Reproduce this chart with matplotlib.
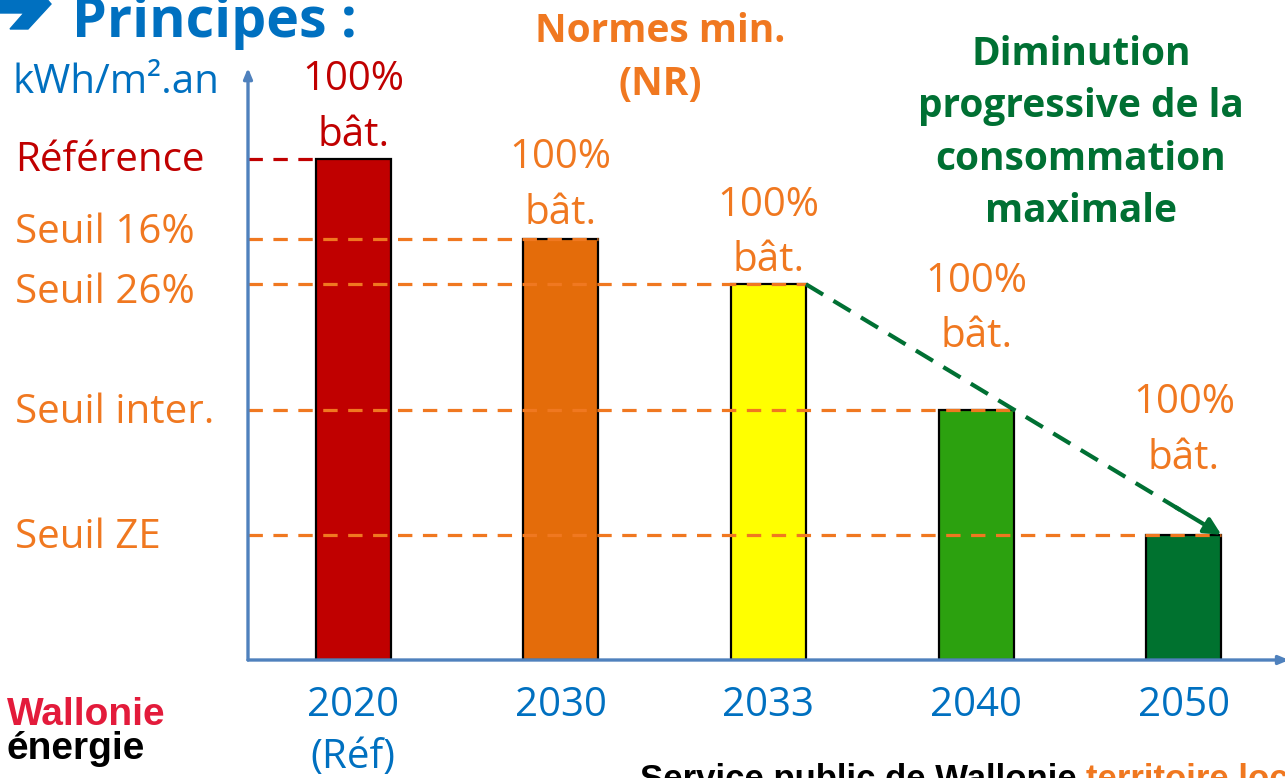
import matplotlib
matplotlib.use("Agg")
import matplotlib.pyplot as plt
import matplotlib.transforms as mtransforms
from matplotlib.patches import Polygon

# ---- data ----
years = ["2020\n(Réf)", "2030", "2033", "2040", "2050"]
values = [100, 84, 75, 50, 25]
bar_colors = ["#C00000", "#E46C0A", "#FFFF00", "#2CA10F", "#00722F"]
bar_labels = ["100%\nbât."] * 5
label_colors = ["#C00000", "#F07820", "#F07820", "#F07820", "#F07820"]
label_offsets = [3, 5, 3, 52, 56]  # px above bar top

level_names = ["Référence", "Seuil 16%", "Seuil 26%", "Seuil inter.", "Seuil ZE"]
level_values = [100, 84, 75, 50, 25]
level_colors = ["#C00000", "#F07820", "#F07820", "#F07820", "#F07820"]
level_label_shift = [-2, 6, -9, -3, -3]  # px upward

W, H = 1285, 778
DPI = 100
fig = plt.figure(figsize=(W / DPI, H / DPI), dpi=DPI)
plt.rcParams['font.family'] = ['Open Sans', 'DejaVu Sans']
FS = 29

def fx(px):
    return px / W

def fy(py):
    return 1 - py / H

x0_px, y0_px, ytop_px = 248, 660, 68
ax = fig.add_axes([fx(x0_px), fy(y0_px), 1 - fx(x0_px), (y0_px - ytop_px) / H])
ax.set_facecolor("none")

pos = list(range(len(years)))
bw = 0.361
ax.set_xlim(-0.506, 4.487)
ax.set_ylim(0, values[0] * 592 / 501)

ax.bar(pos, values, width=bw, color=bar_colors, edgecolor="black", linewidth=1.6, zorder=2)

for s in ax.spines.values():
    s.set_visible(False)
axis_blue = "#4F81BD"
ax.annotate("", xy=(0, 1.0), xytext=(0, 0), xycoords="axes fraction",
            arrowprops=dict(arrowstyle="-|>,head_length=0.6,head_width=0.25", color=axis_blue, lw=2.4,
                            shrinkA=0, shrinkB=0), zorder=5, annotation_clip=False)
ax.annotate("", xy=(1.004, 0), xytext=(0, 0), xycoords="axes fraction",
            arrowprops=dict(arrowstyle="-|>,head_length=0.6,head_width=0.25", color=axis_blue, lw=2.4,
                            shrinkA=0, shrinkB=0), zorder=5, annotation_clip=False)

ax.set_yticks([])
ax.set_xticks(pos)
ax.set_xticklabels(years, color="#0070C0", fontsize=FS, linespacing=1.4)
ax.tick_params(axis="x", length=0, pad=18)

# dashed level lines
xl = ax.get_xlim()[0]
dash = (0, (4.5, 3.3))
for i, (v, c) in enumerate(zip(level_values, level_colors)):
    xr = (pos[0] - bw / 2) if i == 0 else (pos[i] + bw / 2)
    ax.plot([xl, xr], [v, v], color=c, lw=2.3, linestyle=dash, zorder=3,
            solid_capstyle="butt", dash_capstyle="butt", clip_on=False)

# level labels
blend = mtransforms.blended_transform_factory(fig.transFigure, ax.transData)
for name, v, c, sh in zip(level_names, level_values, level_colors, level_label_shift):
    t = ax.text(fx(15), v, name, transform=blend, color=c, fontsize=FS,
                ha="left", va="center")
    t.set_transform(blend + mtransforms.ScaledTranslation(0, sh / DPI, fig.dpi_scale_trans))

# bar labels
for p, v, lab, c, off in zip(pos, values, bar_labels, label_colors, label_offsets):
    ax.annotate(lab, xy=(p, v), xytext=(0, off * 72 / DPI), textcoords="offset points",
                ha="center", va="bottom", color=c, fontsize=FS, linespacing=1.5,
                annotation_clip=False)

# green dashed trend arrow
g = "#007033"
xs, ys = pos[2] + bw / 2, values[2]
xe, ye = pos[4] + bw / 2, values[4]
fr = 0.92
ax.plot([xs, xs + (xe - xs) * fr], [ys, ys + (ye - ys) * fr], color=g, lw=3,
        linestyle=(0, (4.8, 2.9)), zorder=4, dash_capstyle="butt")
ax.annotate("", xy=(xe, ye), xytext=(xs + (xe - xs) * 0.89, ys + (ye - ys) * 0.89),
            arrowprops=dict(arrowstyle="-|>,head_length=1.0,head_width=0.5", color=g, lw=3,
                            shrinkA=0, shrinkB=0), zorder=4)

# header texts
fig.text(fx(12), fy(83), "kWh/m².an", color="#0070C0", fontsize=FS, ha="left", va="center")
fig.text(fx(660), fy(58), "Normes min.\n(NR)", color="#F07820", fontsize=28, fontweight="bold",
         ha="center", va="center", linespacing=1.45)
fig.text(fx(1081), fy(133), "Diminution\nprogressive de la\nconsommation\nmaximale", color=g,
         fontsize=28, fontweight="bold", ha="center", va="center", linespacing=1.45)

# title (cut off at top, as in the reference)
arrow_pts = [(0, -3), (45, -3), (51, 4), (28, 29), (10, 29), (24, 13), (0, 13)]
fig.patches.append(Polygon([(fx(px), fy(py)) for px, py in arrow_pts], closed=True,
                           transform=fig.transFigure, color="#0070C0", figure=fig))
fig.text(fx(72), fy(37), "Principes :", color="#0070C0", fontsize=40, fontweight="bold",
         ha="left", va="baseline")

# logo
fig.text(fx(7), fy(725), "Wallonie", color="#E31B3B", fontsize=28, fontweight="bold",
         ha="left", va="baseline", family=["Liberation Sans"])
fig.text(fx(7), fy(759), "énergie", color="black", fontsize=28, fontweight="bold",
         ha="left", va="baseline", family=["Liberation Sans"])

# footer (cut off at bottom, as in the reference)
t1 = fig.text(fx(640), fy(789), "Service public de Wallonie ", color="black", fontsize=25,
              fontweight="bold", ha="left", va="baseline", family=["Liberation Sans"])
fig.canvas.draw()
bb = t1.get_window_extent()
fig.text(bb.x1 / W, fy(789), "territoire local", color="#F07820", fontsize=25,
         fontweight="bold", ha="left", va="baseline", family=["Liberation Sans"])

fig.savefig("out.png", dpi=DPI)
